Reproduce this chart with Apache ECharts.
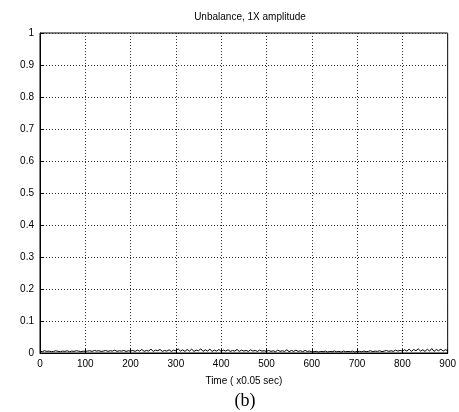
<!DOCTYPE html>
<html><head><meta charset="utf-8">
<script src="https://cdn.jsdelivr.net/npm/echarts@6/dist/echarts.min.js"></script>
<style>html,body{margin:0;padding:0;background:#fff}#c{width:459px;height:412px}</style>
</head><body><div id="c"></div>
<script>
const titleText = "Unbalance, 1X amplitude";
const xLabel = "Time ( x0.05 sec)";
const caption = "(b)";
const xStep = 5;
const amplitude = [
0.006,0.004,0.007,0.005,0.006,0.004,0.005,0.007,0.005,0.004,0.006,0.005,0.007,0.004,0.006,0.005,0.007,0.006,0.004,0.006,0.005,
0.006,0.007,0.005,0.008,0.006,0.007,0.005,0.006,0.008,0.005,0.007,0.006,0.009,0.005,0.007,0.006,0.008,0.005,0.007,0.006,
0.008,0.005,0.009,0.006,0.011,0.005,0.008,0.006,0.012,0.005,0.009,0.007,0.011,0.005,0.008,0.006,0.010,0.005,0.009,0.007,
0.013,0.006,0.010,0.005,0.011,0.006,0.012,0.005,0.009,0.007,0.013,0.005,0.010,0.006,0.012,0.005,0.009,0.006,0.011,0.005,
0.009,0.006,0.010,0.005,0.008,0.006,0.011,0.005,0.009,0.006,0.008,0.005,0.010,0.006,0.008,0.005,0.009,0.006,0.007,0.005,
0.008,0.005,0.007,0.004,0.009,0.005,0.007,0.005,0.010,0.004,0.008,0.005,0.009,0.005,0.007,0.004,0.008,0.005,0.006,0.004,
0.004,0.005,0.003,0.005,0.004,0.006,0.003,0.005,0.004,0.006,0.004,0.005,0.003,0.006,0.004,0.005,0.004,0.006,0.003,0.005,
0.005,0.004,0.006,0.004,0.005,0.007,0.004,0.006,0.005,0.007,0.004,0.006,0.008,0.005,0.007,0.005,0.009,0.006,0.008,0.006,
0.010,0.006,0.012,0.005,0.011,0.007,0.013,0.006,0.010,0.005,0.012,0.006,0.014,0.005,0.011,0.007,0.012,0.006,0.010,0.008
];
const xTicks = [0,100,200,300,400,500,600,700,800,900];
const yTicks = [0,0.1,0.2,0.3,0.4,0.5,0.6,0.7,0.8,0.9,1];

const data = amplitude.map((v,i)=>[i*xStep, v]);
const chart = echarts.init(document.getElementById('c'), null, {renderer:'canvas'});
const font = 'Liberation Sans, Arial, sans-serif';
chart.setOption({
  animation:false,
  backgroundColor:'#fff',
  title:{text:titleText, left:245, top:7, textAlign:'center',
    textStyle:{fontSize:10, fontWeight:'normal', color:'#000', fontFamily:font}},
  grid:{left:40, top:33, right:10, bottom:59, show:true, borderColor:'#000', borderWidth:1, backgroundColor:'transparent'},
  xAxis:{type:'value', min:xTicks[0], max:xTicks[xTicks.length-1], interval:100,
    name:xLabel, nameLocation:'middle', nameGap:23,
    nameTextStyle:{fontSize:10, color:'#000', fontFamily:font},
    axisLine:{lineStyle:{color:'#000'}},
    axisTick:{inside:true, length:4, lineStyle:{color:'#000'}},
    axisLabel:{fontSize:10, color:'#000', fontFamily:font, margin:6},
    splitLine:{show:true, lineStyle:{color:'#333', type:[1,2], width:1}}},
  yAxis:{type:'value', min:yTicks[0], max:yTicks[yTicks.length-1], interval:0.1,
    axisLine:{show:true, lineStyle:{color:'#000'}},
    axisTick:{inside:true, length:4, lineStyle:{color:'#000'}},
    axisLabel:{fontSize:10, color:'#000', fontFamily:font, margin:6,
      formatter:v=>String(Math.round(v*10)/10)},
    splitLine:{show:true, lineStyle:{color:'#333', type:[1,2], width:1}}},
  graphic:[{type:'text', x:245, y:392,
    style:{text:caption, textAlign:'center', font:'18px "Liberation Serif", "Times New Roman", serif', fill:'#000'}}],
  series:[{type:'line', data:data, showSymbol:false, lineStyle:{color:'#000', width:1}}]
});
</script></body></html>
